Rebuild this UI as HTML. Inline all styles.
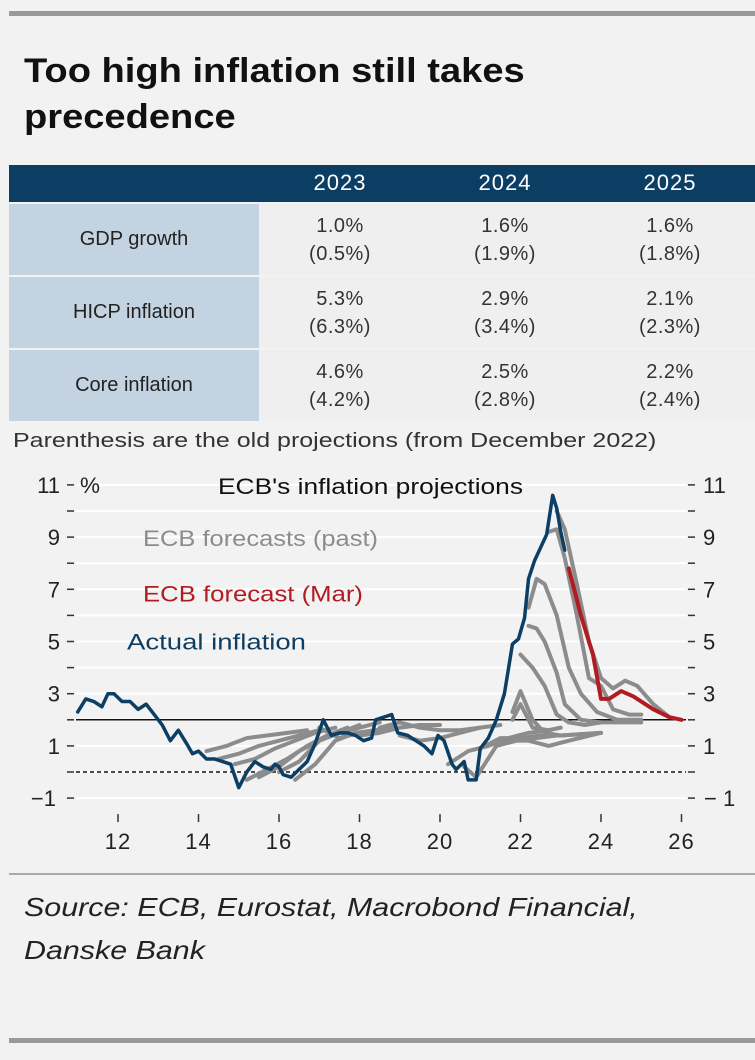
<!DOCTYPE html>
<html><head><meta charset="utf-8"><style>
body{margin:0;width:755px;height:1060px;background:#f2f2f2;font-family:"Liberation Sans",sans-serif;position:relative;overflow:hidden}
.abs{position:absolute}
.cell{position:absolute;text-align:center;font-size:20px;color:#333;line-height:28px;letter-spacing:0.5px}
.lab{position:absolute;left:9px;width:250px;background:#c3d3e1;font-size:20px;color:#222;display:flex;align-items:center;justify-content:center}
.sx{transform-origin:left top;white-space:nowrap}
</style></head><body>
<div class="abs" style="left:9px;top:11px;width:746px;height:5px;background:#999"></div>
<div class="abs sx" style="left:24px;top:48px;font-size:34px;font-weight:bold;line-height:46px;color:#111;transform:scaleX(1.12)">Too high inflation still takes<br>precedence</div>
<div class="abs" style="left:9px;top:165px;width:746px;height:37px;background:#0c3d63"></div>
<div class="abs" style="left:290px;top:170px;width:100px;text-align:center;color:#fff;font-size:22px;letter-spacing:1px">2023</div>
<div class="abs" style="left:455px;top:170px;width:100px;text-align:center;color:#fff;font-size:22px;letter-spacing:1px">2024</div>
<div class="abs" style="left:620px;top:170px;width:100px;text-align:center;color:#fff;font-size:22px;letter-spacing:1px">2025</div>
<div class="abs" style="left:9px;top:204px;width:746px;height:71px;background:#efefef"></div>
<div class="abs" style="left:9px;top:277px;width:746px;height:71px;background:#efefef"></div>
<div class="abs" style="left:9px;top:350px;width:746px;height:71px;background:#efefef"></div>
<div class="lab" style="top:204px;height:71px">GDP growth</div>
<div class="lab" style="top:277px;height:71px">HICP inflation</div>
<div class="lab" style="top:350px;height:71px">Core inflation</div>
<div class="cell" style="left:290px;top:212px;width:100px">1.0%<br>(0.5%)</div>
<div class="cell" style="left:455px;top:212px;width:100px">1.6%<br>(1.9%)</div>
<div class="cell" style="left:620px;top:212px;width:100px">1.6%<br>(1.8%)</div>
<div class="cell" style="left:290px;top:285px;width:100px">5.3%<br>(6.3%)</div>
<div class="cell" style="left:455px;top:285px;width:100px">2.9%<br>(3.4%)</div>
<div class="cell" style="left:620px;top:285px;width:100px">2.1%<br>(2.3%)</div>
<div class="cell" style="left:290px;top:358px;width:100px">4.6%<br>(4.2%)</div>
<div class="cell" style="left:455px;top:358px;width:100px">2.5%<br>(2.8%)</div>
<div class="cell" style="left:620px;top:358px;width:100px">2.2%<br>(2.4%)</div>
<div class="abs sx" style="left:13px;top:430px;font-size:20px;color:#333;transform:scaleX(1.25)">Parenthesis are the old projections (from December 2022)</div>
<svg class="abs" style="left:0;top:460px" width="755" height="415" id="chart"></svg>
<div class="abs" style="left:9px;top:873px;width:746px;height:2px;background:#aaa"></div>
<div class="abs sx" style="left:24px;top:886px;font-size:26px;font-style:italic;line-height:43px;color:#222;transform:scaleX(1.17)">Source: ECB, Eurostat, Macrobond Financial,<br>Danske Bank</div>
<div class="abs" style="left:9px;top:1038px;width:746px;height:5px;background:#999"></div>
<script>
const yTicks=[-1,1,3,5,7,9,11];
const xTicks=[12,14,16,18,20,22,24,26];
const actualX=[2011.0,2011.2,2011.4,2011.6,2011.75,2011.9,2012.1,2012.3,2012.5,2012.7,2012.9,2013.1,2013.3,2013.5,2013.7,2013.85,2014.0,2014.2,2014.4,2014.6,2014.8,2015.0,2015.2,2015.4,2015.6,2015.8,2015.9,2016.0,2016.1,2016.3,2016.5,2016.7,2016.9,2017.1,2017.3,2017.5,2017.7,2017.9,2018.1,2018.3,2018.4,2018.6,2018.8,2018.95,2019.2,2019.4,2019.6,2019.8,2019.95,2020.1,2020.3,2020.4,2020.6,2020.7,2020.9,2021.0,2021.2,2021.4,2021.6,2021.8,2021.95,2022.1,2022.2,2022.35,2022.5,2022.65,2022.8,2022.9,2023.0,2023.1];
const actualY=[2.3,2.8,2.7,2.5,3.0,3.0,2.7,2.7,2.4,2.6,2.2,1.8,1.2,1.6,1.1,0.7,0.8,0.5,0.5,0.4,0.3,-0.6,0.0,0.4,0.2,0.1,0.3,0.2,-0.1,-0.2,0.1,0.4,1.1,2.0,1.4,1.5,1.5,1.4,1.2,1.3,2.0,2.1,2.2,1.5,1.4,1.2,1.0,0.7,1.4,1.2,0.3,0.1,0.4,-0.3,-0.3,0.9,1.3,2.0,3.0,4.9,5.1,5.9,7.4,8.1,8.6,9.1,10.6,10.1,9.2,8.5];
const pastX=[
[2014.2,2014.7,2015.2,2015.7,2016.2,2016.7],
[2014.5,2015.0,2015.5,2016.0,2016.5,2017.0],
[2014.9,2015.4,2015.9,2016.4,2016.9,2017.4],
[2015.2,2015.7,2016.2,2016.7,2017.2,2017.7],
[2015.5,2016.0,2016.5,2017.0,2017.5,2018.0],
[2016.0,2016.5,2017.0,2017.5,2018.0,2018.5],
[2016.4,2016.9,2017.4,2017.9,2018.4,2018.9],
[2017.0,2017.5,2018.0,2018.5,2019.0,2019.5],
[2017.5,2018.0,2018.5,2019.0,2019.5,2020.0],
[2018.5,2019.0,2019.5,2020.0,2020.5,2021.0],
[2019.0,2019.5,2020.0,2020.5,2021.0,2021.5],
[2020.2,2020.7,2021.2,2021.7,2022.2,2022.7],
[2020.6,2020.9,2021.4,2021.9,2022.4,2022.9],
[2021.0,2021.5,2022.0,2022.5,2023.0,2024.0],
[2021.4,2021.8,2022.2,2022.7,2023.2,2024.0],
[2021.8,2022.0,2022.3,2022.6,2023.0,2024.0],
[2021.8,2022.0,2022.3,2022.7,2023.0],
[2022.0,2022.3,2022.6,2022.9,2023.2,2023.6,2024.0],
[2022.2,2022.4,2022.6,2022.9,2023.1,2023.5,2024.0,2025.0],
[2022.2,2022.4,2022.6,2022.9,2023.2,2023.5,2023.9,2024.4,2025.0],
[2022.7,2022.9,2023.1,2023.4,2023.7,2024.0,2024.3,2024.7,2025.0],
[2022.9,2023.1,2023.4,2023.7,2024.0,2024.3,2024.6,2024.9,2025.3,2025.7]];
const pastY=[
[0.8,1.0,1.3,1.4,1.5,1.6],
[0.5,0.7,1.0,1.2,1.4,1.6],
[0.3,0.5,0.9,1.2,1.5,1.7],
[-0.3,0.1,0.5,1.0,1.4,1.7],
[-0.2,0.2,0.8,1.2,1.5,1.8],
[0.0,0.4,1.2,1.5,1.7,1.9],
[-0.3,0.3,1.2,1.5,1.6,1.7],
[1.7,1.3,1.5,1.6,1.7,1.8],
[1.5,1.4,1.5,1.7,1.8,1.8],
[1.7,1.9,1.7,1.6,1.6,1.7],
[1.4,1.2,1.3,1.5,1.7,1.8],
[0.3,0.8,1.0,1.3,1.5,1.6],
[0.2,-0.2,1.0,1.2,1.3,1.4],
[0.9,1.3,1.3,1.4,1.4,1.5],
[1.1,1.2,1.2,1.0,1.2,1.5],
[2.3,3.1,2.0,1.5,1.4,1.5],
[2.0,2.6,1.7,1.6,1.7],
[4.5,4.0,3.3,2.2,1.9,1.8,1.9],
[5.6,5.5,5.0,3.8,2.6,2.0,1.9,1.9],
[6.3,7.4,7.2,6.0,4.0,3.0,2.3,2.0,2.0],
[9.2,9.3,8.2,6.0,3.6,3.3,2.4,2.2,2.2],
[10.0,9.3,7.2,5.0,3.6,3.2,3.5,3.3,2.6,2.1]];
const marchX=[2023.2,2023.5,2023.8,2024.0,2024.2,2024.5,2024.8,2025.3,2025.7,2026.0];
const marchY=[7.8,6.0,4.5,2.8,2.8,3.1,2.9,2.4,2.1,2.0];

const T=460;
function X(yr){return 118+(yr-2012)*40.25;}
function Y(v){return 772-T-v*26.1;}
const svg=document.getElementById('chart');
const NS='http://www.w3.org/2000/svg';
function mk(tag,attrs){const e=document.createElementNS(NS,tag);for(const k in attrs)e.setAttribute(k,attrs[k]);svg.appendChild(e);return e;}
for(let v=-1;v<=11;v++){
 const g=mk('line',{x1:76,x2:686,y1:Y(v),y2:Y(v),stroke:'#fff','stroke-width':2});
 
 
 const tl=mk('line',{x1:67,x2:74,y1:Y(v),y2:Y(v),stroke:'#333','stroke-width':1.5});
 
 
 const tr=mk('line',{x1:688,x2:695,y1:Y(v),y2:Y(v),stroke:'#333','stroke-width':1.5});
 
 
}
yTicks.forEach(v=>{
 const a=mk('text',{x:v<0?56:60,y:Y(v)+8,'font-size':22,fill:'#222','text-anchor':'end','font-family':'Liberation Sans'});a.textContent=v<0?'\u2212'+Math.abs(v):v;
 
 
 const b=mk('text',{x:v<0?704:703,y:Y(v)+8,'font-size':22,fill:'#222','font-family':'Liberation Sans'});b.textContent=v<0?'\u2212 '+Math.abs(v):v;
 
 
});
xTicks.forEach(t=>{
 const l=mk('line',{x1:X(2000+t),x2:X(2000+t),y1:Y(-1)+16,y2:Y(-1)+24,stroke:'#333','stroke-width':1.5});
 
 
 const a=mk('text',{x:X(2000+t),y:Y(-1)+51,'font-size':22,fill:'#222','text-anchor':'middle','font-family':'Liberation Sans','letter-spacing':'1'});a.textContent=t;
 
 
});
const z=mk('line',{x1:76,x2:686,y1:Y(0),y2:Y(0),stroke:'#111','stroke-width':1.5,'stroke-dasharray':'4,3'});


const t2=mk('line',{x1:76,x2:686,y1:Y(2),y2:Y(2),stroke:'#111','stroke-width':1.5});


function path(xs,ys,col,w){return mk('polyline',{points:xs.map((x,i)=>X(x)+','+Y(ys[i])).join(' '),fill:'none',stroke:col,'stroke-width':w,'stroke-linejoin':'round','stroke-linecap':'round'});}
pastX.forEach((xs,i)=>{const p=path(xs,pastY[i],'#8c8c8c',4);
 
 });
const r=path(marchX,marchY,'#b01c22',4);


const a=path(actualX,actualY,'#0d3f64',3.5);


function txt(s,x,y,col,name,len){const e=mk('text',{x:x,y:y,'font-size':22,fill:col,'font-family':'Liberation Sans',textLength:len,lengthAdjust:'spacingAndGlyphs'});e.textContent=s;
 
 }
txt('%',80,Y(11)+8,'#222','y-unit',20);
txt("ECB's inflation projections",218,Y(11)+9,'#111','chart-title',305);
txt('ECB forecasts (past)',143,Y(9)+9,'#8c8c8c','legend-past',235);
txt('ECB forecast (Mar)',143,Y(7)+12,'#b01c22','legend-march',220);
txt('Actual inflation',127,Y(5)+8,'#0d3f64','legend-actual',179);
</script>
</body></html>
